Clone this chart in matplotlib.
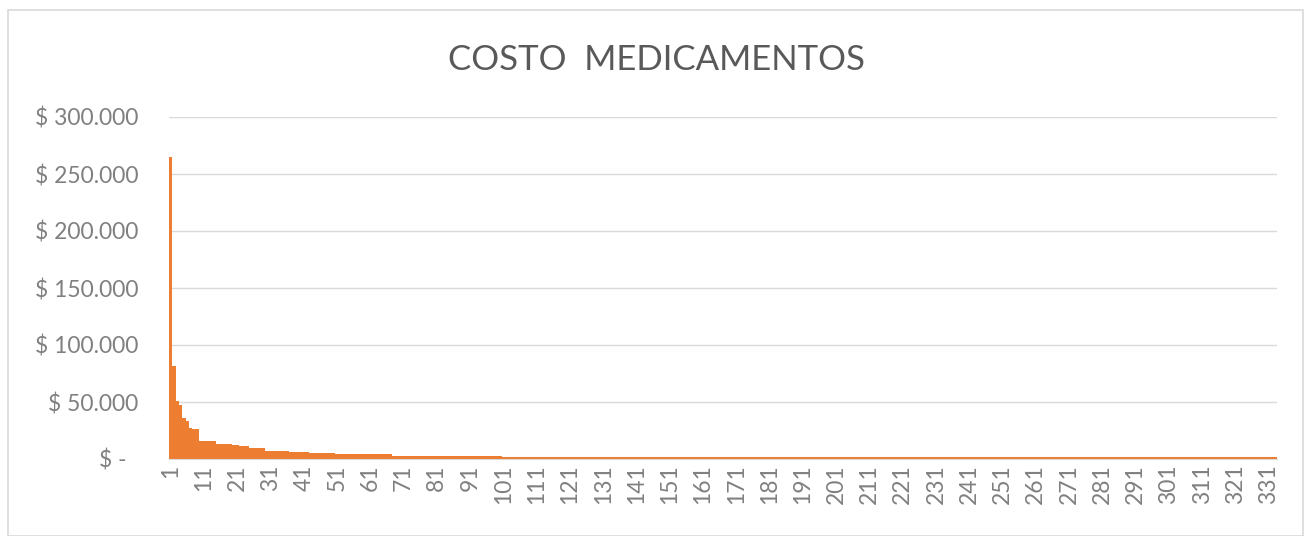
import numpy as np
import matplotlib.pyplot as plt
from matplotlib.patches import Rectangle
from matplotlib.ticker import FuncFormatter

plt.rcParams['font.family'] = ['Lato', 'DejaVu Sans']

# primeros medicamentos (valores individuales)
top_costs = [265000, 82000, 51000, 47000, 36000, 33000, 27000, 26000, 26000]
# tramos casi constantes que siguen: nivel y cantidad de barras
step_levels = [15500, 13000, 12000, 11000, 10000, 7300, 6100, 5000, 4000, 3000, 1500]
step_counts = [5, 5, 2, 3, 5, 7, 6, 8, 17, 33, 233]

costs = np.concatenate([top_costs, np.repeat(step_levels, step_counts)])
items = np.arange(1, len(costs) + 1)
tick_items = items[::10]

title = 'COSTO  MEDICAMENTOS'
gray = '#595959'
bar_color = '#ED7D31'


def money(v, pos):
    if v == 0:
        return '$ -  '
    return '$ ' + f'{int(v):,}'.replace(',', '.')


fig = plt.figure(figsize=(13.13, 5.36), dpi=100)
fig.patches.append(Rectangle((8 / 1313, 0), 1295 / 1313, 526 / 536, transform=fig.transFigure,
                             fill=False, edgecolor='#D9D9D9', linewidth=1.2))

ax = fig.add_axes([169 / 1313, 1 - 459 / 536, 1108 / 1313, 342 / 536])
ax.bar(items, costs, width=1.0, color=bar_color, linewidth=0)

ax.set_xlim(0.5, len(costs) + 0.5)
ax.set_ylim(0, 300000)
ax.set_yticks(np.arange(0, 300001, 50000))
ax.yaxis.set_major_formatter(FuncFormatter(money))
ax.set_xticks(tick_items)
ax.set_xticklabels([str(i) for i in tick_items], rotation=90)

ax.grid(axis='y', color='#D9D9D9', linewidth=1)
ax.set_axisbelow(True)
for s in ['top', 'right', 'left']:
    ax.spines[s].set_visible(False)
ax.spines['bottom'].set_color('#D9D9D9')
ax.tick_params(axis='both', length=0, colors='#808080', labelsize=16.5)
ax.tick_params(axis='y', pad=22)
ax.tick_params(axis='x', pad=4)

fig.text(0.5, 1 - 60 / 536, title, ha='center', va='center', fontsize=25, color=gray)

fig.savefig('out.png', dpi=100)
